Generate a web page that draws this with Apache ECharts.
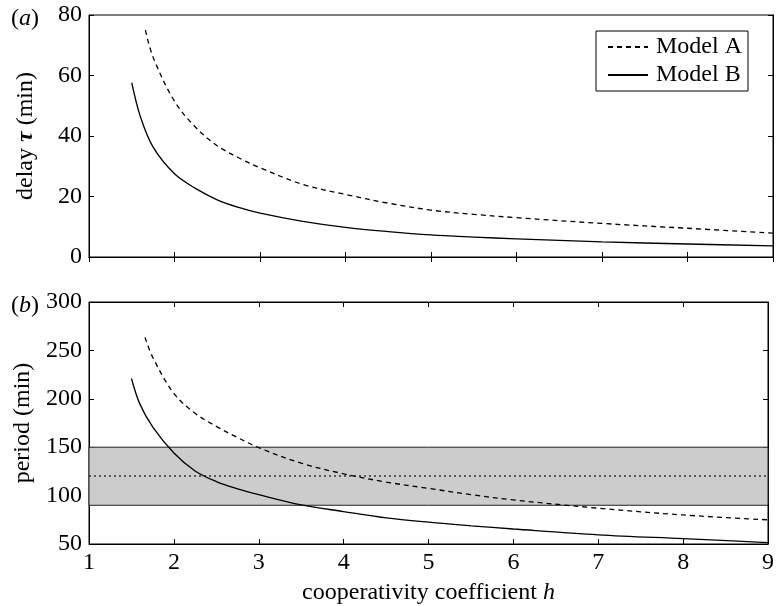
<!DOCTYPE html>
<html>
<head>
<meta charset="utf-8">
<script src="https://cdn.jsdelivr.net/npm/echarts@6/dist/echarts.min.js"></script>
<style>
  html, body { margin: 0; padding: 0; background: #fff; }
  #chart { width: 777px; height: 606px; }
</style>
</head>
<body>
<div id="chart"></div>
<script>
// cooperativity coefficient h (x values)
const hA = [1.66, 1.75, 2, 2.25, 2.5, 2.75, 3, 3.5, 4, 4.5, 5, 5.5, 6, 7, 8, 9]
const hB = [1.5, 1.6, 1.75, 2, 2.25, 2.5, 2.75, 3, 3.5, 4, 4.5, 5, 5.5, 6, 7, 8, 9]

// (a) delay tau (min)
const delayA = [75, 66, 51.5, 42.8, 36.8, 32.8, 29.5, 24, 20.7, 17.8, 15.5, 14.1, 13, 11.1, 9.5, 7.9]
const delayB = [57.6, 46.5, 36.3, 27.5, 22.6, 18.9, 16.4, 14.5, 11.8, 9.8, 8.4, 7.3, 6.6, 6.0, 5.0, 4.3, 3.7]

// (b) period (min)
const periodA = [263.5, 243, 205.5, 185, 171.5, 160, 149.5, 133.5, 122.5, 114, 107.5, 101, 95.5, 87, 80, 75]
const periodB = [221, 194.5, 171, 144, 125.5, 114.5, 107, 101, 90.5, 83.5, 77, 72.5, 68.8, 65.5, 59.5, 55.5, 51.5]

// observed period band and mean
const bandLow = 90
const bandHigh = 150
const bandMean = 120

const xTicks = [1, 9, 1]     // min, max, interval
const delayTicks = [0, 80, 20]
const periodTicks = [50, 300, 50]

const FONT = '"Liberation Serif", "DejaVu Serif", serif'
const FS = 24
const zip = (xs, ys) => xs.map((x, i) => [x, ys[i]])

const chartDom = document.getElementById('chart')
const myChart = echarts.init(chartDom)

const tickOnly = (extra) => Object.assign({
    axisLine: { show: true, lineStyle: { color: '#000', width: 1 } },
    axisTick: { show: true, inside: true, length: 5, lineStyle: { color: '#000' } },
    splitLine: { show: false },
}, extra)

const xAxisBase = (grid, pos, labels) => tickOnly({
    type: 'value', gridIndex: grid, position: pos,
    min: xTicks[0], max: xTicks[1], interval: xTicks[2],
    axisLabel: { show: labels, color: '#000', fontFamily: FONT, fontSize: FS, margin: 7 },
})
const yAxisBase = (grid, pos, t, labels) => tickOnly({
    type: 'value', gridIndex: grid, position: pos,
    min: t[0], max: t[1], interval: t[2],
    axisLabel: { show: labels, color: '#000', fontFamily: FONT, fontSize: FS, margin: 7 },
})

const bottomX = xAxisBase(1, 'bottom', true)
bottomX.name = 'cooperativity coefficient {i|h}'
bottomX.nameLocation = 'middle'
bottomX.nameGap = 37
bottomX.nameTextStyle = {
    color: '#000', fontFamily: FONT, fontSize: FS,
    rich: { i: { fontStyle: 'italic', fontFamily: FONT, fontSize: FS, color: '#000' } }
}

const topY = yAxisBase(0, 'left', delayTicks, true)
topY.name = 'delay {t|τ} (min)'
topY.nameLocation = 'middle'
topY.nameRotate = 90
topY.nameGap = 51
topY.nameTextStyle = {
    color: '#000', fontFamily: FONT, fontSize: FS,
    rich: { t: { fontStyle: 'italic', fontWeight: 'bold', fontFamily: FONT, fontSize: FS, color: '#000' } }
}

const botY = yAxisBase(1, 'left', periodTicks, true)
botY.name = 'period (min)'
botY.nameLocation = 'middle'
botY.nameRotate = 90
botY.nameGap = 51
botY.nameTextStyle = { color: '#000', fontFamily: FONT, fontSize: FS }

const lineSeries = (name, x, y, yIdx, dashed) => ({
    name: name,
    type: 'line',
    xAxisIndex: yIdx < 2 ? 0 : 2,
    yAxisIndex: yIdx,
    data: zip(x, y),
    smooth: 0.35,
    showSymbol: false,
    symbol: 'none',
    silent: true,
    z: 5,
    lineStyle: { color: '#000', width: 1.3, type: dashed ? [5, 4] : 'solid' },
    itemStyle: { color: '#000' },
})

const bandSeries = lineSeries('Model B', hB, periodB, 2, false)
bandSeries.markArea = {
    silent: true,
    itemStyle: { color: '#cccccc', borderColor: '#222', borderWidth: 1 },
    data: [[{ yAxis: bandLow }, { yAxis: bandHigh }]]
}
bandSeries.markLine = {
    silent: true,
    symbol: 'none',
    label: { show: false },
    lineStyle: { color: '#333', width: 1.5, type: [2, 3] },
    data: [{ yAxis: bandMean }]
}

const option = {
    animation: false,
    backgroundColor: '#fff',
    title: [
        { text: '({i|a})', left: 6, top: 2, textStyle: { fontFamily: FONT, fontSize: FS, fontWeight: 'normal', color: '#000',
            rich: { i: { fontStyle: 'italic', fontFamily: FONT, fontSize: FS, color: '#000' } } } },
        { text: '({i|b})', left: 6, top: 289, textStyle: { fontFamily: FONT, fontSize: FS, fontWeight: 'normal', color: '#000',
            rich: { i: { fontStyle: 'italic', fontFamily: FONT, fontSize: FS, color: '#000' } } } },
    ],
    legend: {
        data: ['Model A', 'Model B'],
        orient: 'vertical',
        right: 29,
        top: 31,
        padding: [4, 6, 4, 11],
        itemGap: 4,
        itemWidth: 40,
        itemHeight: 18,
        backgroundColor: '#fff',
        borderColor: '#000',
        borderWidth: 1,
        borderRadius: 0,
        selectedMode: false,
        itemStyle: { opacity: 0 },
        textStyle: { fontFamily: FONT, fontSize: FS, color: '#000', padding: [0, 0, 0, 3] },
    },
    grid: [
        { left: 89, right: 4, top: 15, height: 242, show: true, borderColor: '#000', borderWidth: 1 },
        { left: 89, right: 4, top: 302, height: 242, show: true, borderColor: '#000', borderWidth: 1 },
    ],
    xAxis: [
        xAxisBase(0, 'bottom', false),
        xAxisBase(0, 'top', false),
        bottomX,
        xAxisBase(1, 'top', false),
    ],
    yAxis: [
        topY,
        yAxisBase(0, 'right', delayTicks, false),
        botY,
        yAxisBase(1, 'right', periodTicks, false),
    ],
    series: [
        lineSeries('Model A', hA, delayA, 0, true),
        lineSeries('Model B', hB, delayB, 0, false),
        lineSeries('Model A', hA, periodA, 2, true),
        bandSeries,
    ]
}
myChart.setOption(option)
</script>
</body>
</html>
